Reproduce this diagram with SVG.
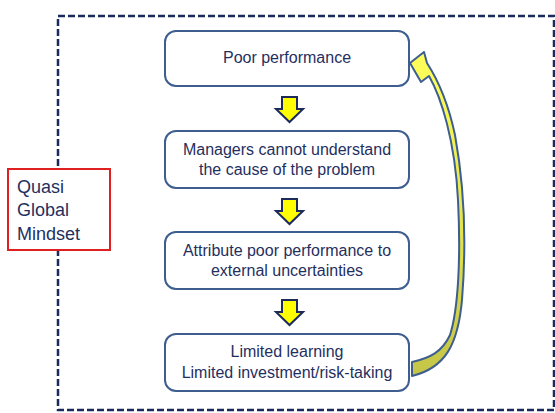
<svg xmlns="http://www.w3.org/2000/svg" width="555" height="413" viewBox="0 0 555 413">
<defs>
<style>
.box{fill:#ffffff;stroke:#3d5e8e;stroke-width:2}
.t{font-family:"Liberation Sans",Arial,sans-serif;font-size:16px;fill:#1f3060;text-anchor:middle}
.q{font-family:"Liberation Sans",Arial,sans-serif;font-size:18px;fill:#1f3060}
.down{fill:#ffff00;stroke:#1c2a5c;stroke-width:2;stroke-linejoin:miter}
</style>
<linearGradient id="cg" x1="0" y1="55" x2="0" y2="376" gradientUnits="userSpaceOnUse">
<stop offset="0" stop-color="#ffff5a"/>
<stop offset="0.5" stop-color="#e6e650"/>
<stop offset="1" stop-color="#c4c448"/>
</linearGradient>
</defs>
<rect width="555" height="413" fill="#ffffff"/>
<rect x="58" y="16" width="496" height="394" fill="none" stroke="#1b2a5c" stroke-width="2.5" stroke-dasharray="7 3"/>
<g id="quasi">
<rect x="8" y="169" width="102" height="81" fill="#ffffff" stroke="#e02020" stroke-width="2"/>
<text class="q" x="17" y="193">Quasi</text>
<text class="q" x="17" y="216">Global</text>
<text class="q" x="17" y="240">Mindset</text>
</g>
<g id="n1">
<rect class="box" x="165" y="31" width="244" height="55" rx="11"/>
<text class="t" x="287" y="63">Poor performance</text>
</g>
<g id="n2">
<rect class="box" x="165" y="131" width="244" height="57" rx="11"/>
<text class="t" x="287" y="155">Managers cannot understand</text>
<text class="t" x="287" y="175">the cause of the problem</text>
</g>
<g id="n3">
<rect class="box" x="165" y="232" width="244" height="57" rx="11"/>
<text class="t" x="287" y="256">Attribute poor performance to</text>
<text class="t" x="287" y="276">external uncertainties</text>
</g>
<g id="n4">
<rect class="box" x="165" y="334" width="244" height="57" rx="11"/>
<text class="t" x="287" y="357">Limited learning</text>
<text class="t" x="287" y="378">Limited investment/risk-taking</text>
</g>
<g id="connectors">
<path class="down" d="M282 97 H297 V109 H303 L289.5 122 L276 109 H282 Z"/>
<path class="down" d="M282 199 H297 V211 H303 L289.5 224 L276 211 H282 Z"/>
<path class="down" d="M282 300 H297 V312 H303 L289.5 325 L276 312 H282 Z"/>
<path fill="url(#cg)" stroke="#3d5e8e" stroke-width="2" stroke-linejoin="round" d="M412 376 C445 368 458 345 462 300 C466 250 465 190 455 135 C448 102 438 80 427 63 L424 52 L410 63 L421 82 L429 76 C441 97 455 140 458 200 C461 260 458 310 450 335 C442 352 430 358 412 362 Z"/>
</g>
</svg>
